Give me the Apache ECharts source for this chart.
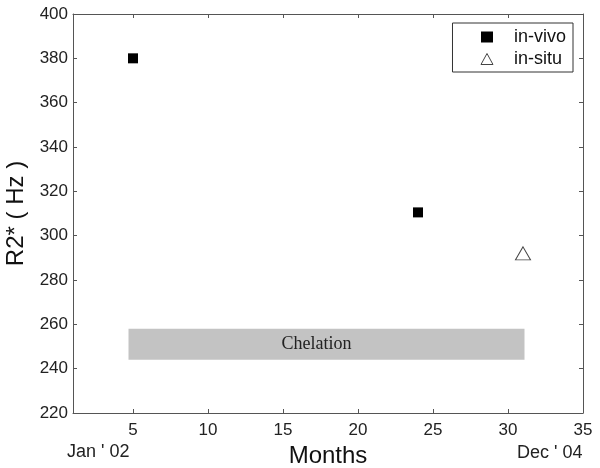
<!DOCTYPE html>
<html>
<head>
<meta charset="utf-8">
<script src="https://cdn.jsdelivr.net/npm/echarts@6/dist/echarts.min.js"></script>
<style>
  html, body { margin: 0; padding: 0; background: #fff; }
  #chart { width: 600px; height: 468px; }
</style>
</head>
<body>
<div id="chart"></div>
<script>
// data
const monthTicks = [5, 10, 15, 20, 25, 30, 35];
const inVivo = [[5, 380], [24, 310.5]];
const inSitu = [[31, 292]];
const chelationMonths = [4.7, 31.1];
const chelationR2 = [244, 258];

const fontFamily = '"Liberation Sans", Arial, sans-serif';
const axisColor = '#555';

const chart = echarts.init(document.getElementById('chart'));

const xBase = {
  type: 'value',
  min: 1,
  max: 35,
  axisLine: { show: true, onZero: false, lineStyle: { color: axisColor } },
  axisTick: { show: true, inside: true, length: 4, customValues: monthTicks, lineStyle: { color: axisColor } },
  splitLine: { show: false }
};
const yBase = {
  type: 'value',
  min: 220,
  max: 400,
  interval: 20,
  axisLine: { show: true, onZero: false, lineStyle: { color: axisColor } },
  axisTick: { show: true, inside: true, length: 4, lineStyle: { color: axisColor } },
  splitLine: { show: false }
};

const option = {
  animation: false,
  backgroundColor: '#fff',
  grid: { left: 73, right: 17, top: 14, bottom: 55, containLabel: false, outerBoundsMode: 'none' },
  legend: {
    orient: 'vertical',
    right: 27,
    top: 23,
    padding: [5, 7, 4, 28],
    itemGap: 4,
    itemWidth: 12,
    itemHeight: 11,
    borderColor: '#333',
    borderWidth: 1,
    backgroundColor: '#fff',
    textStyle: { fontFamily: fontFamily, fontSize: 18, lineHeight: 18, color: '#111', padding: [0, 0, 0, 16] },
    data: [
      { name: 'in-vivo', icon: 'rect', itemStyle: { color: '#000', opacity: 1 } },
      { name: 'in-situ', icon: 'triangle', itemStyle: { color: '#fff', borderColor: '#444', borderWidth: 1, opacity: 1 } }
    ]
  },
  xAxis: [
    Object.assign({}, xBase, {
      position: 'bottom',
      name: 'Months',
      nameLocation: 'middle',
      nameGap: 28,
      nameTextStyle: { fontFamily: fontFamily, fontSize: 24, color: '#111' },
      axisLabel: { show: true, customValues: monthTicks, margin: 9, fontFamily: fontFamily, fontSize: 17, color: '#222' }
    }),
    Object.assign({}, xBase, { position: 'top', axisLabel: { show: false } })
  ],
  yAxis: [
    Object.assign({}, yBase, {
      position: 'left',
      name: 'R2* ( Hz )',
      nameLocation: 'middle',
      nameGap: 45,
      nameTextStyle: { fontFamily: fontFamily, fontSize: 24, color: '#111' },
      axisLabel: { show: true, margin: 5, fontFamily: fontFamily, fontSize: 17, color: '#222' }
    }),
    Object.assign({}, yBase, { position: 'right', axisLabel: { show: false } })
  ],
  graphic: [
    { type: 'text', left: 67, top: 443, style: { text: "Jan ' 02", font: '18px ' + fontFamily, fill: '#222' } },
    { type: 'text', left: 517, top: 444, style: { text: "Dec ' 04", font: '18px ' + fontFamily, fill: '#222' } }
  ],
  series: [
    {
      name: 'in-vivo',
      type: 'scatter',
      symbol: 'rect',
      symbolSize: 10,
      itemStyle: { color: '#000', opacity: 1 },
      data: inVivo,
      z: 3,
      markArea: {
        silent: true,
        itemStyle: { color: '#c3c3c3', opacity: 1 },
        label: {
          show: true,
          position: 'inside',
          offset: [-10, 0],
          fontFamily: '"Liberation Serif", "Times New Roman", serif',
          fontSize: 18,
          color: '#222'
        },
        data: [[
          { name: 'Chelation', coord: [chelationMonths[0], chelationR2[1]] },
          { coord: [chelationMonths[1], chelationR2[0]] }
        ]]
      }
    },
    {
      name: 'in-situ',
      type: 'scatter',
      symbol: 'triangle',
      symbolSize: [15, 13],
      itemStyle: { color: '#fff', borderColor: '#444', borderWidth: 1, opacity: 1 },
      data: inSitu,
      z: 3
    }
  ]
};

chart.setOption(option);
</script>
</body>
</html>
